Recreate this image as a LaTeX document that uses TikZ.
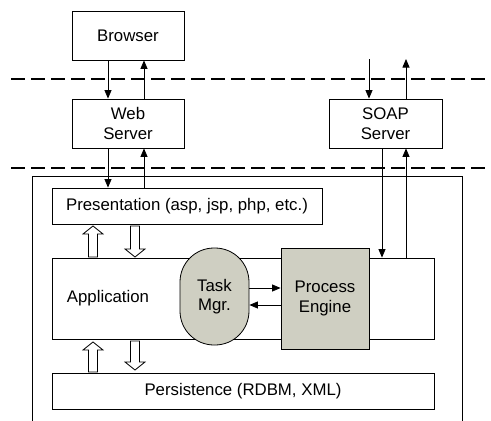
\documentclass[tikz,border=0pt]{standalone}
\usepackage{fontspec}
\setmainfont{Liberation Sans}
\usetikzlibrary{arrows.meta}
\definecolor{compgray}{HTML}{CFCFC2}

% hollow block arrows: x, tail y, tip y (y grows downwards)
\newcommand\hollowarrow[3]{%
  \pgfmathsetmacro\hd{#3>#2 ? -8 : 8}%
  \draw[hollow] (#1-4.5,#2) -- (#1-4.5,#3+\hd) -- (#1-10,#3+\hd) -- (#1,#3)
    -- (#1+10,#3+\hd) -- (#1+4.5,#3+\hd) -- (#1+4.5,#2) -- cycle;}

\begin{document}
\begin{tikzpicture}[x=1pt,y=-1pt,
  txt/.style={font=\fontsize{16.8}{19.5}\selectfont, align=center},
  box/.style={draw, line width=0.8pt, fill=white, inner sep=0pt, txt},
  comp/.style={box, fill=compgray},
  arr/.style={line width=0.8pt, -{Triangle[length=8.5pt,width=7pt]}},
  hollow/.style={draw, line width=0.8pt, fill=white},
  tier/.style={line width=1.6pt, dash pattern=on 14pt off 6pt}]
\useasboundingbox (0,0) rectangle (491,421);

% tier separators
\draw[tier] (11,79) -- (491,79);
\draw[tier] (11,168) -- (491,168);

% client and servers
\node[box, minimum width=112pt, minimum height=49pt] (browser) at (128,35.5) {Browser};
\node[box, minimum width=112pt, minimum height=49pt] (web) at (128,123.5) {Web\\Server};
\node[box, minimum width=113pt, minimum height=49pt] (soap) at (385.5,123.5) {SOAP\\Server};

% container of the engine tiers
\draw[line width=0.8pt] (32,425) -- (32,176) -- (462,176) -- (462,425);

\node[box, minimum width=270pt, minimum height=36pt] (pres) at (187,206) {Presentation (asp, jsp, php, etc.)};
\node[box, minimum width=382pt, minimum height=81pt] (app) at (243,298.5) {};
\node[txt] (applabel) at (108,298) {Application};
\node[comp, minimum width=69pt, minimum height=97pt, rounded corners=34pt] (task) at (214.5,296.5) {Task\\Mgr.};
\node[comp, minimum width=88pt, minimum height=101pt] (engine) at (325,298.5) {Process\\Engine};
\node[box, minimum width=382pt, minimum height=36pt] (pers) at (243,391) {Persistence (RDBM, XML)};

% request / response flows
\draw[arr] ([xshift=-20pt]browser.south) -- ([xshift=-20pt]web.north);
\draw[arr] ([xshift=16pt]web.north) -- ([xshift=16pt]browser.south);
\draw[arr] ([xshift=-20pt]web.south) -- (pres.north -| 108,0);
\draw[arr] (pres.north -| 144,0) -- ([xshift=16pt]web.south);

\coordinate (soapin) at (369,59);
\coordinate (soapout) at (406,59);
\draw[arr] (soapin) -- (soapin |- soap.north);
\draw[arr] (soapout |- soap.north) -- (soapout);
\draw[arr] (soap.south -| 382,0) -- (app.north -| 382,0);
\draw[arr] (app.north -| 406,0) -- (soap.south -| 406,0);

\draw[arr] ([yshift=8.5pt]task.east) -- ([yshift=8.5pt]task.east -| engine.west);
\draw[arr] ([yshift=-8.5pt]task.east -| engine.west) -- ([yshift=-8.5pt]task.east);

% calls between tiers
\hollowarrow{93}{257}{226}
\hollowarrow{135}{226}{257}
\hollowarrow{93}{372}{342}
\hollowarrow{135}{341}{370}
\end{tikzpicture}
\end{document}
